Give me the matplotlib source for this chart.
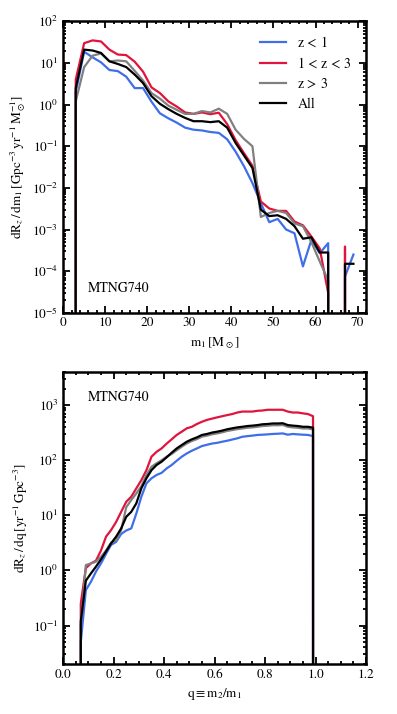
import numpy as np
import matplotlib
matplotlib.use('Agg')
import matplotlib.pyplot as plt
from matplotlib.ticker import MultipleLocator, LogLocator, NullFormatter

plt.rcParams['font.family'] = 'STIXGeneral'
plt.rcParams['mathtext.fontset'] = 'stix'
plt.rcParams['font.size'] = 9.5

# primary mass distribution, bin centres (width 2 Msun)
m1 = np.arange(1, 71, 2)
m1_low_z = [0, 2.0, 18.7, 13.7, 10.4, 6.8, 6.4, 4.7, 2.5, 2.5, 1.18, 0.62, 0.47, 0.37, 0.28, 0.25, 0.24, 0.22,
            0.21, 0.147, 0.074, 0.033, 0.013, 0.0043, 0.0015, 0.0018, 0.001, 0.00081, 0.00013, 0.00056,
            0.00027, 0.00047, 0, 7.4e-5, 2.5e-4]
m1_mid_z = [0, 4.0, 30, 35, 33, 21, 16, 15.5, 10.8, 6.2, 2.6, 1.9, 1.2, 0.9, 0.65, 0.6, 0.65, 0.59, 0.64,
            0.34, 0.14, 0.068, 0.034, 0.0047, 0.0032, 0.0028, 0.0028, 0.00155, 0.00126, 0.00068, 0.00035,
            3e-5, 0, 3.9e-4, 0]
m1_high_z = [0, 1.2, 8, 15, 17, 11, 11.5, 11, 6.5, 3.8, 1.9, 1.4, 0.95, 0.75, 0.6, 0.6, 0.7, 0.65, 0.8,
             0.6, 0.25, 0.15, 0.1, 0.002, 0.0025, 0.0028, 0.0025, 0.0014, 0.0012, 0.0005, 0.00017, 6e-5,
             0, 0, 0]
m1_all = [0, 2.5, 21, 20, 17.5, 11, 9.5, 8, 5.3, 3.3, 1.6, 1.05, 0.78, 0.6, 0.48, 0.4, 0.4, 0.38, 0.4,
          0.28, 0.12, 0.06, 0.03, 0.003, 0.0021, 0.0022, 0.0018, 0.0012, 0.0006, 0.00065, 0.00028,
          0.00028, 0, 0.00015, 0.00015]

# mass ratio distribution, bin centres (width 0.02)
q = np.round(np.arange(0.05, 1.02, 0.02), 2)
q_low_z = [0, 0.05, 0.44, 0.62, 0.95, 1.34, 2.0, 2.9, 3.3, 4.6, 5.3, 5.8, 10.8, 21.8, 38, 47, 54, 59, 71,
           82, 98, 116, 133, 149, 164, 181, 191, 201, 207, 217, 226, 238, 250, 267, 274, 280, 288, 291,
           295, 300, 303, 307, 291, 300, 295, 291, 288, 274, 0]
q_mid_z = [0, 0.25, 1.1, 1.34, 1.5, 2.3, 4.1, 5.4, 7.6, 11.6, 17.6, 21.8, 30.9, 43.7, 66, 116, 142, 164,
           200, 240, 288, 330, 380, 405, 455, 500, 540, 570, 600, 630, 660, 690, 735, 765, 765, 765, 790,
           800, 825, 825, 825, 825, 765, 735, 735, 710, 690, 630, 0]
q_high_z = [0, 0.1, 1.25, 1.34, 1.44, 1.77, 2.3, 3.2, 3.5, 5.4, 14, 19, 25, 34, 54, 76, 88, 100, 116, 130,
            152, 176, 202, 224, 242, 268, 280, 296, 307, 321, 340, 353, 367, 377, 389, 395, 405, 418,
            423, 432, 432, 437, 405, 395, 389, 377, 377, 363, 0]
q_all = [0, 0.12, 0.65, 0.88, 1.17, 1.58, 2.2, 3.1, 4.1, 5.8, 9.4, 11.6, 16.5, 31, 47, 66, 82, 94, 113,
         137, 164, 189, 217, 240, 260, 288, 300, 318, 330, 345, 365, 380, 395, 405, 418, 425, 435, 450,
         455, 465, 465, 470, 435, 425, 418, 405, 405, 390, 0]

labels = [r'$\mathrm{z}\,<\,1$', r'$1\,<\,\mathrm{z}\,<\,3$', r'$\mathrm{z}\,>\,3$', 'All']
colors = ['#3f6fe8', '#e0143c', 'gray', 'black']

fig = plt.figure(figsize=(3.97, 7.14), dpi=100)
ax1 = fig.add_axes([0.159, 0.562, 0.763, 0.408])
ax2 = fig.add_axes([0.159, 0.070, 0.763, 0.409])

for ys, c, lab in zip([m1_low_z, m1_mid_z, m1_high_z, m1_all], colors, labels):
    ax1.plot(m1, ys, color=c, lw=1.6, label=lab)
for ys, c in zip([q_low_z, q_mid_z, q_high_z, q_all], colors):
    ax2.plot(q, ys, color=c, lw=1.6)

ax1.set_yscale('log', nonpositive='clip')
ax1.set_xlim(0, 72)
ax1.set_ylim(1e-5, 1e2)
ax1.xaxis.set_major_locator(MultipleLocator(10))
ax1.xaxis.set_minor_locator(MultipleLocator(2))
ax1.set_xlabel(r'$\mathrm{m_1\,[M_\odot]}$')
ax1.set_ylabel(r'$\mathrm{dR_{\it z}\,/\,dm_1\,[Gpc^{-3}\,yr^{-1}\,M_\odot^{-1}]}$', labelpad=3)
ax1.text(0.08, 0.07, 'MTNG740', transform=ax1.transAxes, fontsize=10)
ax1.legend(loc='upper right', frameon=False, handlelength=1.9, handletextpad=0.8,
           labelspacing=0.45, fontsize=10, borderaxespad=0.6)

ax2.set_yscale('log', nonpositive='clip')
ax2.set_xlim(0, 1.2)
ax2.set_ylim(0.02, 4000)
ax2.xaxis.set_major_locator(MultipleLocator(0.2))
ax2.xaxis.set_minor_locator(MultipleLocator(0.05))
ax2.set_xlabel(r'$\mathrm{q \equiv m_2/m_1}$')
ax2.set_ylabel(r'$\mathrm{dR_{\it z}\,/\,dq\,[yr^{-1}\,Gpc^{-3}]}$', labelpad=3)
ax2.text(0.08, 0.9, 'MTNG740', transform=ax2.transAxes, fontsize=10)

for ax in (ax1, ax2):
    ax.yaxis.set_major_locator(LogLocator(base=10, numticks=20))
    ax.yaxis.set_minor_locator(LogLocator(base=10, subs=np.arange(2, 10), numticks=20))
    ax.yaxis.set_minor_formatter(NullFormatter())
    ax.tick_params(which='both', direction='in', top=True, right=True, width=1.3)
    ax.tick_params(which='major', length=5)
    ax.tick_params(which='minor', length=2.5)
    for s in ax.spines.values():
        s.set_linewidth(1.8)

plt.savefig('out.png', dpi=100)
